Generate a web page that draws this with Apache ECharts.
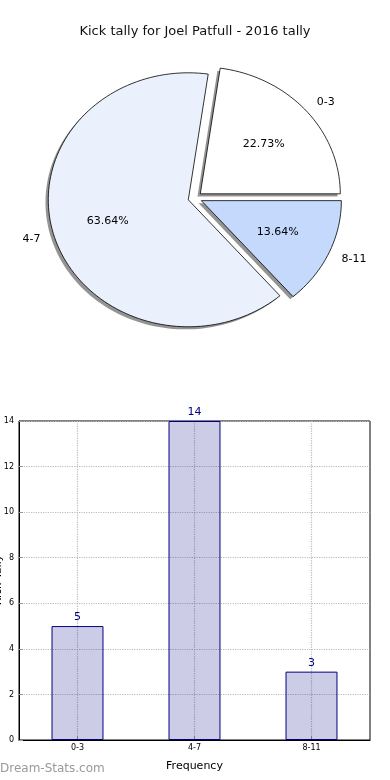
<!DOCTYPE html>
<html>
<head>
<meta charset="utf-8">
<script src="https://cdn.jsdelivr.net/npm/echarts@6/dist/echarts.min.js"></script>
<style>
html,body{margin:0;padding:0;background:#fff;}
#chart{width:390px;height:780px;}
</style>
</head>
<body>
<div id="chart"></div>
<script>
// ---- data ----
var categories = ['0-3', '4-7', '8-11'];
var tallies = [5, 14, 3];
var sliceColors = ['#ffffff', '#eaf1fd', '#c5d9fd'];
var yTicks = [0, 2, 4, 6, 8, 10, 12, 14];
var titleText = 'Kick tally for Joel Patfull - 2016 tally';
var xAxisName = 'Frequency';
var yAxisName = 'Kick Tally';
var watermark = 'Dream-Stats.com';

// ---- pie layout (matplotlib-style elliptical exploded pie) ----
var PIE = { cx: 195, cy: 198, rx: 140, ry: 127, explode: 0.05, shadowDx: -2.8, shadowDy: 2.6 };
var FONT = 'DejaVu Sans';
var total = tallies.reduce(function (a, b) { return a + b; }, 0);
var cumStart = [];
(function () { var c = 0; for (var i = 0; i < tallies.length; i++) { cumStart.push(c); c += tallies[i]; } })();

function slicePoints(ox, oy, a0, a1) {
  var pts = [[ox, oy]];
  var n = Math.max(8, Math.ceil((a1 - a0) / (Math.PI / 90)));
  for (var k = 0; k <= n; k++) {
    var t = a0 + (a1 - a0) * k / n;
    pts.push([ox + PIE.rx * Math.cos(t), oy - PIE.ry * Math.sin(t)]);
  }
  return pts;
}

function renderSlice(params, api) {
  var i = params.dataIndex;
  var v = api.value(0);
  var a0 = cumStart[i] / total * 2 * Math.PI;
  var a1 = a0 + v / total * 2 * Math.PI;
  var mid = (a0 + a1) / 2;
  var ox = PIE.cx + PIE.explode * PIE.rx * Math.cos(mid);
  var oy = PIE.cy - PIE.explode * PIE.ry * Math.sin(mid);
  var pts = slicePoints(ox, oy, a0, a1);
  var shadowPts = pts.map(function (p) { return [p[0] + PIE.shadowDx, p[1] + PIE.shadowDy]; });
  var lx = ox + 1.1 * PIE.rx * Math.cos(mid);
  var ly = oy - 1.1 * PIE.ry * Math.sin(mid);
  var px = ox + 0.6 * PIE.rx * Math.cos(mid);
  var py = oy - 0.6 * PIE.ry * Math.sin(mid);
  var pct = (v / total * 100).toFixed(2) + '%';
  return {
    type: 'group',
    children: [
      { type: 'polygon', shape: { points: shadowPts }, style: { fill: 'rgba(60,60,60,0.55)', stroke: null }, silent: true },
      { type: 'polygon', shape: { points: pts }, style: { fill: sliceColors[i], stroke: '#000', lineWidth: 0.8 } },
      { type: 'text', x: lx, y: ly, style: { text: categories[i], fill: '#000', font: '11px "' + FONT + '"', align: Math.cos(mid) >= 0 ? 'left' : 'right', verticalAlign: 'middle' } },
      { type: 'text', x: px, y: py, style: { text: pct, fill: '#000', font: '11px "' + FONT + '"', align: 'center', verticalAlign: 'middle' } }
    ]
  };
}

var chart = echarts.init(document.getElementById('chart'), null, { renderer: 'canvas' });
var option = {
  animation: false,
  backgroundColor: '#ffffff',
  title: {
    text: titleText, left: 'center', top: 20,
    textStyle: { fontFamily: FONT, fontSize: 13, fontWeight: 'normal', color: '#111' }
  },
  graphic: [
    { type: 'text', left: 0, top: 763, style: { text: watermark, fill: '#999999', font: '12px "' + FONT + '"' } },
    { type: 'text', x: 4, y: 580, rotation: Math.PI / 2, style: { text: yAxisName, fill: '#000', font: '11px "' + FONT + '"', align: 'center', verticalAlign: 'bottom' } }
  ],
  grid: { left: 19, right: 20, top: 421, bottom: 40, containLabel: false, outerBoundsMode: 'none', show: true, borderColor: '#000', borderWidth: 1, backgroundColor: 'transparent' },
  xAxis: {
    type: 'category', data: categories,
    name: xAxisName, nameLocation: 'middle', nameGap: 21,
    nameTextStyle: { fontFamily: FONT, fontSize: 11, color: '#000' },
    axisLine: { show: true, lineStyle: { color: '#000' } },
    axisTick: { show: true, alignWithLabel: true, inside: true, length: 4, lineStyle: { color: '#999' } },
    axisLabel: { fontFamily: FONT, fontSize: 8, color: '#000', margin: 4 },
    splitLine: { show: true, alignWithLabel: true, lineStyle: { color: '#bbbbbb', type: 'dotted', width: 1.2 } }
  },
  yAxis: {
    type: 'value', min: yTicks[0], max: yTicks[yTicks.length - 1], interval: yTicks[1] - yTicks[0],
    axisLine: { show: true, lineStyle: { color: '#000' } },
    axisTick: { show: true, inside: true, length: 4, lineStyle: { color: '#999' } },
    axisLabel: { fontFamily: FONT, fontSize: 8, color: '#000', margin: 5 },
    splitLine: { show: true, lineStyle: { color: '#bbbbbb', type: 'dotted', width: 1.2 } }
  },
  series: [
    {
      type: 'custom', coordinateSystem: 'none', renderItem: renderSlice,
      data: tallies.map(function (v) { return [v]; }), z: 5
    },
    {
      type: 'bar', data: tallies, barWidth: '44.4%',
      itemStyle: { color: 'rgba(0,0,128,0.2)', borderColor: '#000080', borderWidth: 1 },
      label: { show: true, position: 'top', distance: 3, color: '#000080', fontFamily: FONT, fontSize: 11 },
      z: 3
    }
  ]
};
chart.setOption(option);
</script>
</body>
</html>
